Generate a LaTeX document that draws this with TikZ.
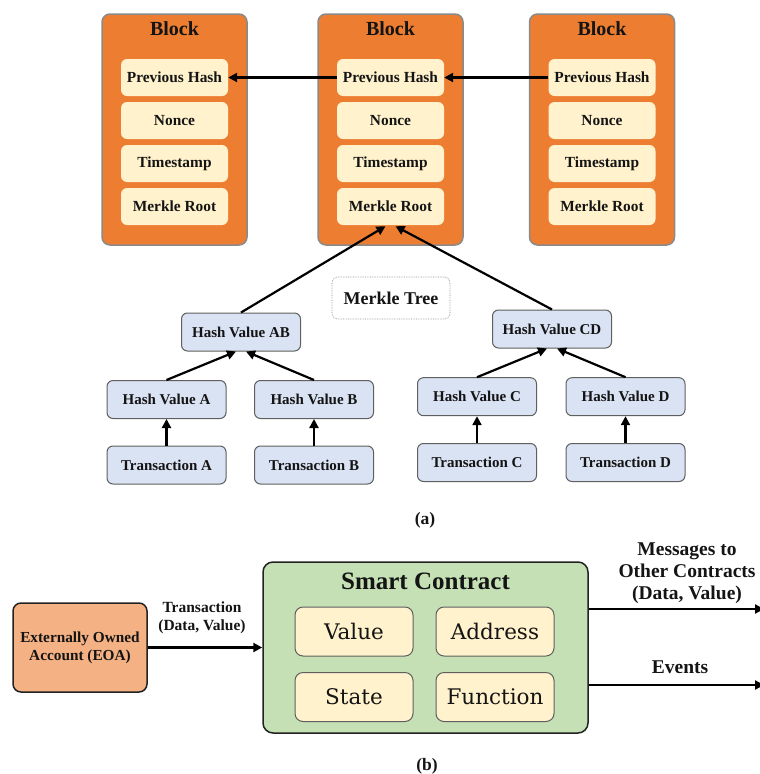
\documentclass[tikz,border=0pt]{standalone}
\usepackage{fontspec}
\setmainfont{Liberation Serif}
\newfontfamily\dvserif{DejaVu Serif}
\usetikzlibrary{arrows.meta}

\definecolor{blockfill}{HTML}{ED7D31}
\definecolor{blockedge}{HTML}{8A8A8A}
\definecolor{fieldfill}{HTML}{FFF2CC}
\definecolor{hashfill}{HTML}{DAE3F3}
\definecolor{hashedge}{HTML}{5F5F5F}
\definecolor{eoafill}{HTML}{F4B183}
\definecolor{scfill}{HTML}{C5E0B4}
\definecolor{darkedge}{HTML}{222222}
\definecolor{txt}{HTML}{141414}

\begin{document}
\begin{tikzpicture}[x=1pt,y=-1pt,
  every node/.style={text=txt},
  block/.style={draw=blockedge, fill=blockfill, line width=1.5pt, rounded corners=8pt,
    minimum width=145pt, minimum height=231pt, inner sep=0pt},
  blocktitle/.style={font=\bfseries\fontsize{20}{22}\selectfont, inner sep=0pt},
  field/.style={fill=fieldfill, rounded corners=6pt, minimum width=107pt, minimum height=37pt,
    inner sep=0pt, font=\bfseries\fontsize{15.4}{17}\selectfont},
  hashbox/.style={draw=hashedge, fill=hashfill, line width=1pt, rounded corners=6pt,
    minimum width=119pt, minimum height=38pt, inner sep=0pt,
    font=\bfseries\fontsize{15}{17}\selectfont},
  arr/.style={line width=2.2pt, -{Triangle[length=9pt,width=9pt]}},
  lbl/.style={font=\bfseries\fontsize{15.5}{17.5}\selectfont, align=center, inner sep=0pt},
  biglbl/.style={font=\bfseries\fontsize{19.5}{22}\selectfont, align=center, inner sep=0pt},
  part/.style={fill=fieldfill, draw=hashedge, line width=1pt, rounded corners=8pt,
    minimum width=118pt, minimum height=49pt, inner sep=0pt,
    font=\dvserif\fontsize{21.5}{24}\selectfont}
]
\useasboundingbox (0,0) rectangle (760,774);

% ---------- (a) chain of blocks ----------
\foreach \i/\cx in {1/174.5, 2/390.5, 3/602} {
  \node[block] (b\i) at (\cx,129.5) {};
  \node[blocktitle] (bt\i) at (\cx,29) {Block};
  \node[field] (ph\i) at (\cx,77.5) {Previous Hash};
  \node[field] (no\i) at (\cx,120.5) {Nonce};
  \node[field] (ts\i) at (\cx,163.5) {Timestamp};
  \node[field] (mr\i) at (\cx,206.5) {Merkle Root};
}
\draw[arr] (ph2.west) -- (ph1.east);
\draw[arr] (ph3.west) -- (ph2.east);

% ---------- Merkle tree ----------
\node[draw=black!45, densely dotted, line width=0.7pt, rounded corners=6pt, minimum width=118pt, minimum height=42pt,
  inner sep=0pt, font=\bfseries\fontsize{18}{20}\selectfont] (mt) at (391,298) {Merkle Tree};

\node[hashbox] (hab) at (241,332) {Hash Value AB};
\node[hashbox] (hcd) at (552,329) {Hash Value CD};
\node[hashbox] (ha) at (166.5,399.5) {Hash Value A};
\node[hashbox] (hb) at (314,399.5) {Hash Value B};
\node[hashbox] (hc) at (477,396.7) {Hash Value C};
\node[hashbox] (hd) at (625.5,396.7) {Hash Value D};
\node[hashbox] (ta) at (166.5,465) {Transaction A};
\node[hashbox] (tb) at (314,465) {Transaction B};
\node[hashbox] (tc) at (477,462.5) {Transaction C};
\node[hashbox] (td) at (625.5,462.5) {Transaction D};

\draw[arr] (hab.north) -- ([xshift=-5pt,yshift=-1pt]mr2.south);
\draw[arr] (hcd.north) -- ([xshift=5pt,yshift=-1pt]mr2.south);
\draw[arr] (ha.north) -- ([xshift=-5pt]hab.south);
\draw[arr] (hb.north) -- ([xshift=5pt]hab.south);
\draw[arr] (hc.north) -- ([xshift=-5pt]hcd.south);
\draw[arr] (hd.north) -- ([xshift=5pt]hcd.south);
\draw[arr] (ta.north) -- (ha.south);
\draw[arr] (tb.north) -- (hb.south);
\draw[arr] (tc.north) -- (hc.south);
\draw[arr] (td.north) -- (hd.south);

\node[font=\bfseries\fontsize{17.5}{19}\selectfont] (capa) at (425,520) {(a)};

% ---------- (b) smart contract ----------
\node[draw=darkedge, fill=eoafill, line width=1.5pt, rounded corners=8pt,
  minimum width=134pt, minimum height=89pt, inner sep=0pt, align=center,
  font=\bfseries\fontsize{15.3}{18}\selectfont] (eoa) at (80,647.5)
  {Externally Owned\\Account (EOA)};

\node[draw=darkedge, fill=scfill, line width=1.5pt, rounded corners=10pt,
  minimum width=325pt, minimum height=171pt, inner sep=0pt] (sc) at (425.5,647.5) {};
\node[font=\bfseries\fontsize{25}{27}\selectfont, anchor=base, inner sep=0pt] (sct) at (425.5,589) {Smart Contract};

\node[part] (pv) at (354,631.5) {Value};
\node[part] (pa) at (495,631.5) {Address};
\node[part] (pst) at (354,697) {State};
\node[part] (pf) at (495,697) {Function};

\draw[arr] (eoa.east) -- (eoa.east -| sc.west);
\node[lbl] (tx) at (202,618) {Transaction\\(Data, Value)};

\coordinate (msgend) at (764,609);
\coordinate (evend) at (764,685);
\draw[arr] (sc.east |- msgend) -- (msgend);
\draw[arr] (sc.east |- evend) -- (evend);
\node[biglbl] (msg) at (687,573) {Messages to\\Other Contracts\\(Data, Value)};
\node[biglbl] (ev) at (680,667) {Events};

\node[font=\bfseries\fontsize{17.5}{19}\selectfont] (capb) at (427,766) {(b)};
\end{tikzpicture}
\end{document}
